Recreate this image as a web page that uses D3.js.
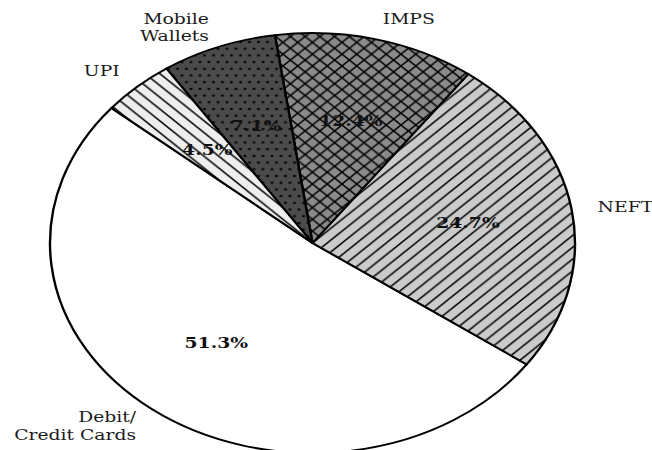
<!DOCTYPE html>
<html>
<head>
<meta charset="utf-8">
<script src="https://cdn.jsdelivr.net/npm/d3@7"></script>
<style>
  html, body { margin: 0; padding: 0; background: #fff; }
  svg { display: block; }
</style>
</head>
<body>
<svg id="chart" width="652" height="450"></svg>
<script>
// Payment channel shares (percent), counter-clockwise from 140°
const categories = ["Debit/\nCredit Cards", "NEFT", "IMPS", "Mobile\nWallets", "UPI"];
const shares = [51.3, 24.7, 12.4, 7.1, 4.5];
const shareLabels = ["51.3%", "24.7%", "12.4%", "7.1%", "4.5%"];
const fills = ["#ffffff", "#cbcbcb", "#8a8a8a", "#4b4b4b", "#eeeeee"];
const hatches = [null, "fwd", "cross", "dots", "back"];

const W = 652, H = 450;
const cx = 312.5, cy = 243, R = 210, sx = 1.25;
const deg = Math.PI / 180;

const svg = d3.select("#chart");
const defs = svg.append("defs");

// hatch tiles
const P = 11.8;
function linePattern(id, bg, paths) {
  const p = defs.append("pattern").attr("id", id)
    .attr("patternUnits", "userSpaceOnUse").attr("width", P).attr("height", P);
  p.append("rect").attr("width", P).attr("height", P).attr("fill", bg);
  paths.forEach(d => p.append("path").attr("d", d)
    .attr("stroke", "#000").attr("stroke-width", 1.35).attr("fill", "none"));
}
const fwd = [`M${-P/4},${P/4}L${P/4},${-P/4}`, `M0,${P}L${P},0`, `M${P*3/4},${P*5/4}L${P*5/4},${P*3/4}`];
const back = [`M${-P/4},${P*3/4}L${P/4},${P*5/4}`, `M0,0L${P},${P}`, `M${P*3/4},${-P/4}L${P*5/4},${P/4}`];
linePattern("fwd", fills[1], fwd);
linePattern("cross", fills[2], fwd.concat(back));
linePattern("back", fills[4], back);

const dw = 7.2, dh = 13.4;
const dp = defs.append("pattern").attr("id", "dots")
  .attr("patternUnits", "userSpaceOnUse").attr("width", dw).attr("height", dh);
dp.append("rect").attr("width", dw).attr("height", dh).attr("fill", fills[3]);
[[0,0],[dw,0],[0,dh],[dw,dh],[dw/2,dh/2]].forEach(([x,y]) =>
  dp.append("circle").attr("cx", x).attr("cy", y).attr("r", 1.15).attr("fill", "#000"));

const g = svg.append("g").attr("transform", `translate(${cx},${cy}) scale(${sx},1)`);

const data = categories.map((c, i) => ({ cat: c, v: shares[i], pct: shareLabels[i], i }));
const pie = d3.pie().value(d => d.v).sort(null)
  .startAngle(-50 * deg).endAngle(-50 * deg - 2 * Math.PI);
const arcs = pie(data);
const arc = d3.arc().innerRadius(0).outerRadius(R);

g.selectAll("path.slice").data(arcs).join("path")
  .attr("class", "slice")
  .attr("d", arc)
  .attr("fill", d => hatches[d.data.i] ? `url(#${hatches[d.data.i]})` : fills[d.data.i])
  .attr("stroke", "#000").attr("stroke-width", 1.9).attr("stroke-linejoin", "round");

const fs = 15;
const font = "'DejaVu Serif', serif";

// category labels outside the rim
arcs.forEach(a => {
  const m = (a.startAngle + a.endAngle) / 2;
  const x = Math.sin(m) * R * 1.1, y = -Math.cos(m) * R * 1.1;
  const lines = a.data.cat.split("\n");
  const lh = fs * 1.17;
  const t = g.append("text")
    .attr("x", x).attr("y", y)
    .attr("text-anchor", x > 0 ? "start" : "end")
    .attr("font-family", font).attr("font-size", fs).attr("fill", "#1a1a1a");
  lines.forEach((s, k) => t.append("tspan")
    .attr("x", x)
    .attr("y", y + (k - (lines.length - 1) / 2) * lh)
    .attr("dominant-baseline", "central")
    .text(s));
});

// percentage labels inside the slices
arcs.forEach(a => {
  const m = (a.startAngle + a.endAngle) / 2;
  const x = Math.sin(m) * R * 0.6, y = -Math.cos(m) * R * 0.6;
  g.append("text")
    .attr("x", x).attr("y", y)
    .attr("text-anchor", "middle").attr("dominant-baseline", "central")
    .attr("font-family", font).attr("font-size", fs).attr("font-weight", "bold")
    .attr("fill", "#111")
    .text(a.data.pct);
});
</script>
</body>
</html>
